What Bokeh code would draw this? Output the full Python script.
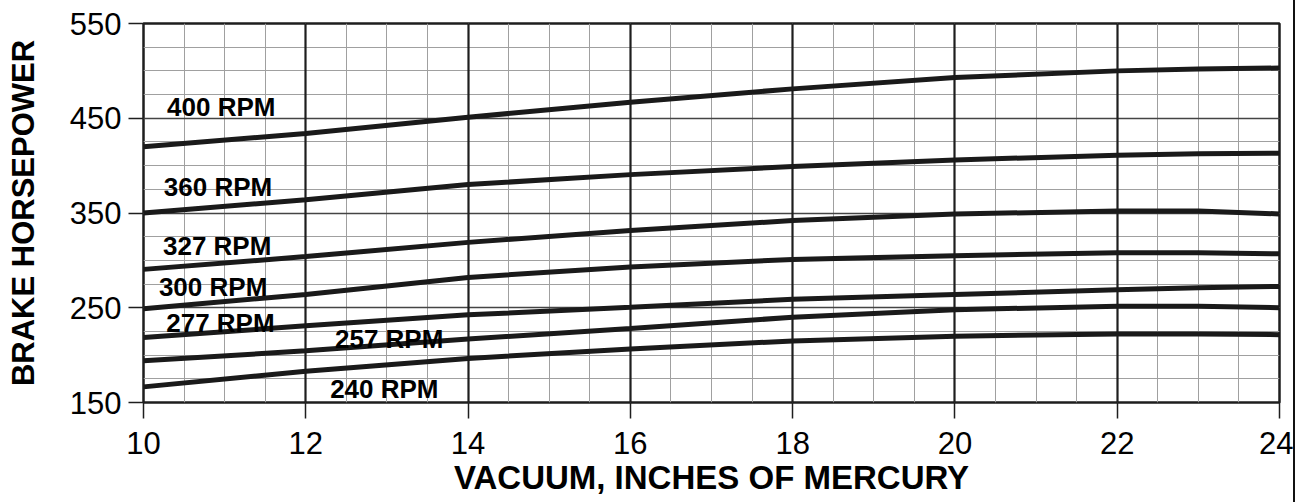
from bokeh.plotting import figure
from bokeh.models import Range1d, FixedTicker, Grid, ColumnDataSource, LabelSet
from bokeh.embed import file_html
from bokeh.resources import INLINE
from bokeh.core.properties import value

# ---------------- data ----------------
vacuum = [10, 12, 14, 16, 18, 20, 22, 23, 24]
hp_400 = [420, 434, 451, 467, 481, 493, 500, 502, 503]
hp_360 = [350, 364, 380, 390.5, 399, 406, 411, 412.5, 413]
hp_327 = [290.5, 304, 319, 331.5, 342, 349, 352, 352, 349]
hp_300 = [249, 264, 282, 293, 301, 305, 308, 308, 307]
hp_277 = [218.5, 231, 242.5, 250.5, 259, 264, 269, 271, 272.5]
hp_257 = [194, 204.5, 217, 228, 240, 248, 251.5, 251.5, 250]
hp_240 = [166.5, 183, 196.5, 206.5, 215, 220, 222.3, 222.3, 221.6]

series = [hp_400, hp_360, hp_327, hp_300, hp_277, hp_257, hp_240]

curve_labels = ["400 RPM", "360 RPM", "327 RPM", "300 RPM", "277 RPM", "257 RPM", "240 RPM"]
label_x = [10.29, 10.25, 10.24, 10.19, 10.28, 12.36, 12.30]
label_y = [461.5, 377.7, 315, 272, 234, 216.5, 164.7]

x_ticks = [10, 12, 14, 16, 18, 20, 22, 24]
x_minor = [10 + 0.5 * i for i in range(29)]
y_ticks = [150, 250, 350, 450, 550]
y_minor = [150 + 25 * i for i in range(17)]

x_title = "VACUUM, INCHES OF MERCURY"
y_title = "BRAKE HORSEPOWER"

# ---------------- figure ----------------
FONT = "Liberation Sans"
p = figure(width=1295, height=502,
           x_range=Range1d(10, 24), y_range=Range1d(150, 550),
           output_backend="svg", toolbar_location=None,
           min_border_left=143, min_border_right=16,
           min_border_top=23, min_border_bottom=100,
           x_axis_label=x_title, y_axis_label=y_title)
p.styles = {"border-right": "2.5px solid #111111"}
p.background_fill_color = "white"
p.border_fill_color = "white"
p.outline_line_color = "#1e1e1e"
p.outline_line_width = 2.5

p.xgrid.visible = False
p.ygrid.visible = False

# minor grids
p.add_layout(Grid(dimension=0, ticker=FixedTicker(ticks=x_minor),
                  grid_line_color="#a0a0a0", grid_line_width=1))
p.add_layout(Grid(dimension=1, ticker=FixedTicker(ticks=y_minor),
                  grid_line_color="#a0a0a0", grid_line_width=1))
# major grids
p.add_layout(Grid(dimension=1, ticker=FixedTicker(ticks=y_ticks),
                  grid_line_color="#444444", grid_line_width=1.3))
p.add_layout(Grid(dimension=0, ticker=FixedTicker(ticks=x_ticks),
                  grid_line_color="#1e1e1e", grid_line_width=2.2))

# axes
xa = p.xaxis[0]
xa.ticker = FixedTicker(ticks=x_ticks)
xa.major_tick_out = 16
xa.major_tick_in = 0
xa.minor_tick_out = 0
xa.minor_tick_in = 0
xa.major_tick_line_color = "#1e1e1e"
xa.major_tick_line_width = 1.5
xa.axis_line_color = None
xa.major_label_standoff = 13
xa.major_label_text_font = FONT
xa.major_label_text_font_size = "31px"
xa.major_label_text_color = "black"
xa.axis_label_standoff = 2
xa.axis_label_text_font = FONT
xa.axis_label_text_font_style = "bold"
xa.axis_label_text_font_size = "33px"
xa.axis_label_text_color = "black"

ya = p.yaxis[0]
ya.ticker = FixedTicker(ticks=y_ticks)
ya.major_tick_out = 15
ya.major_tick_in = 0
ya.minor_tick_out = 0
ya.minor_tick_in = 0
ya.major_tick_line_color = "#1e1e1e"
ya.major_tick_line_width = 1.5
ya.axis_line_color = None
ya.major_label_standoff = 7
ya.major_label_text_font = FONT
ya.major_label_text_font_size = "31px"
ya.major_label_text_color = "black"
ya.axis_label_standoff = 26
ya.axis_label_text_font = FONT
ya.axis_label_text_font_style = "bold"
ya.axis_label_text_font_size = "31px"
ya.axis_label_text_color = "black"

# curves
for ys in series:
    p.line(vacuum, ys, line_color="#1a1a1a", line_width=5)

# curve labels
src = ColumnDataSource(dict(x=label_x, y=label_y, t=curve_labels))
p.add_layout(LabelSet(x="x", y="y", text="t", source=src,
                      text_font=value(FONT), text_font_style="bold",
                      text_font_size="26px", text_color="black",
                      text_align="left", text_baseline="middle"))

open("out.html", "w").write(file_html(p, INLINE))
